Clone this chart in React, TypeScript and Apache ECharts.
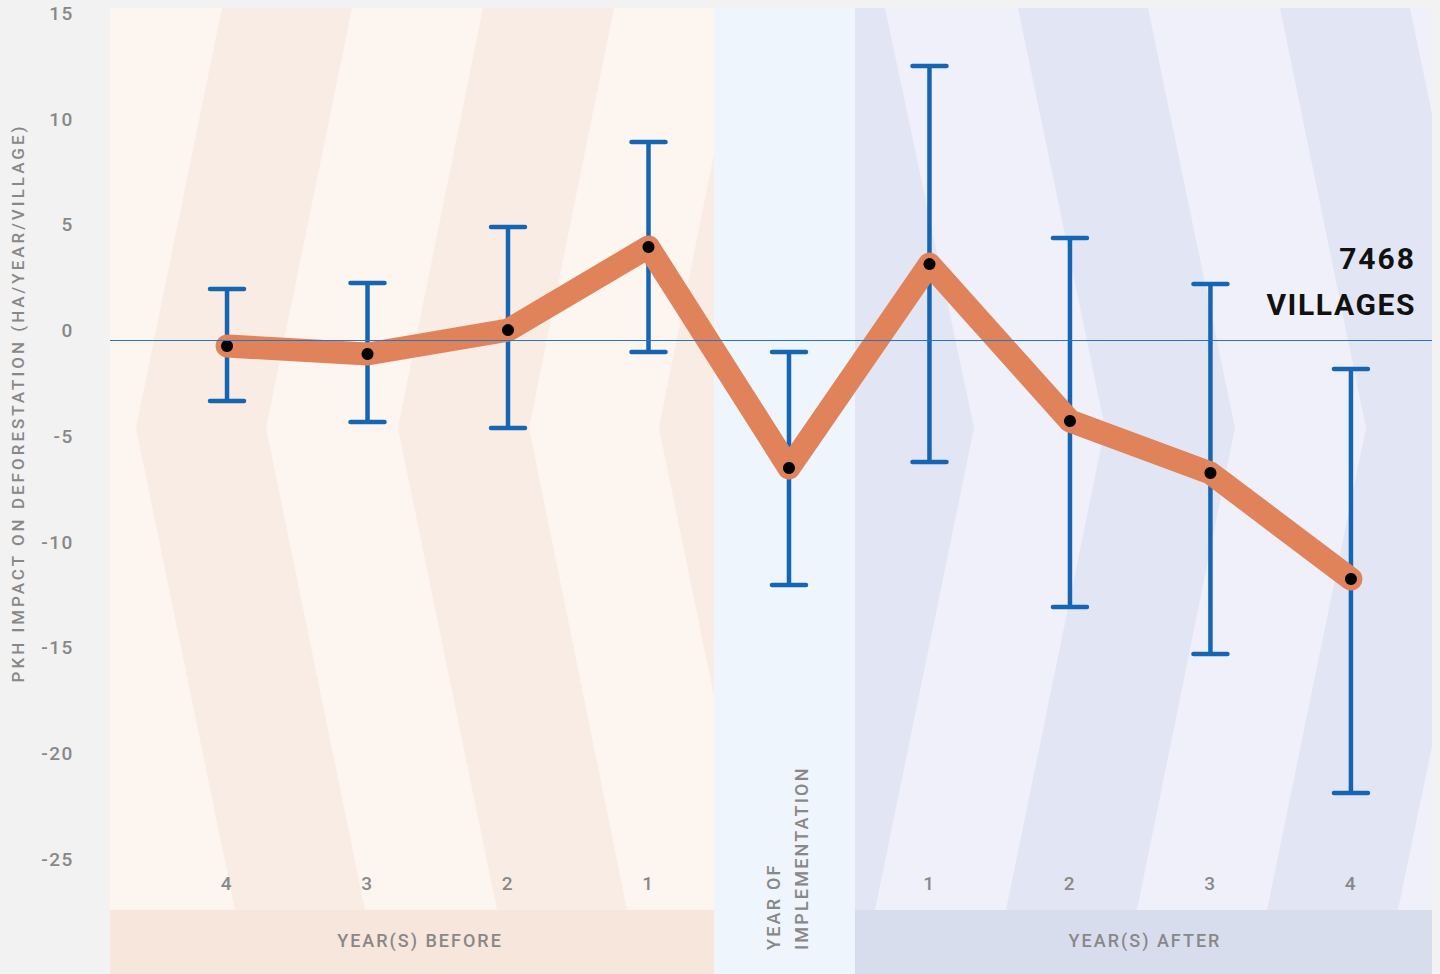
import React, { useEffect, useRef } from 'react';
import * as echarts from 'echarts';

// ---------- data ----------
const periodLabels = ['4', '3', '2', '1', '', '1', '2', '3', '4'];
const estimates = [-0.28, -0.66, 0.47, 4.4, -6.05, 3.59, -3.83, -6.29, -11.3];
const ciUpper = [2.41, 2.7, 5.34, 9.36, -0.57, 12.96, 4.82, 2.65, -1.37];
const ciLower = [-2.88, -3.88, -4.16, -0.57, -11.58, -5.77, -12.62, -14.85, -21.42];
const yTicks = [15, 10, 5, 0, -5, -10, -15, -20, -25];

const yAxisTitle = 'PKH IMPACT ON DEFORESTATION (HA/YEAR/VILLAGE)';
const villageCount = '7468';
const villageUnit = 'VILLAGES';
const beforeLabel = 'YEAR(S) BEFORE';
const afterLabel = 'YEAR(S) AFTER';
const implLine1 = 'YEAR OF';
const implLine2 = 'IMPLEMENTATION';

// ---------- style ----------
const C = {
  page: '#f2f2f2',
  beforeLight: '#fcf5f0',
  beforeDark: '#f9ece4',
  beforeBand: '#f7e6dc',
  impl: '#eef5fc',
  afterLight: '#eff0f9',
  afterDark: '#e2e6f4',
  afterBand: '#d8ddee',
  text: '#888888',
  bar: '#1565b3',
  zero: '#2a74c4',
  line: '#e0825a',
  dot: '#000000',
};
const FONT = 'Roboto, "Noto Sans", sans-serif';

const letterSpacing: Record<string, number> = {
  [yAxisTitle]: 3.0,
  [beforeLabel]: 2.0,
  [afterLabel]: 2.0,
  [implLine1]: 2.2,
  [implLine2]: 2.2,
  [villageCount]: 2,
  [villageUnit]: 1.6,
};
const tickSpacing = 1.6;

function poly(points: number[][], fill: string) {
  return { type: 'polygon', z: -10, silent: true, shape: { points }, style: { fill } };
}
function rect(x: number, y: number, width: number, height: number, fill: string) {
  return { type: 'rect', z: -11, silent: true, shape: { x, y, width, height }, style: { fill } };
}
function label(text: string, x: number, y: number, opts: any = {}) {
  return {
    type: 'text',
    z: 50,
    silent: true,
    x,
    y,
    rotation: opts.rotation || 0,
    style: {
      text,
      fill: opts.fill || C.text,
      fontSize: opts.fontSize || 18,
      fontWeight: opts.fontWeight || 500,
      fontFamily: opts.fontFamily || FONT,
      align: opts.align || 'center',
      verticalAlign: 'middle',
    },
  };
}

export default function App() {
  const ref = useRef<HTMLDivElement>(null);

  useEffect(() => {
    if (!ref.current) return;
    const chart = echarts.init(ref.current, undefined, { renderer: 'svg' });

    const background = [
      rect(110, 8, 604, 902, C.beforeLight),
      rect(110, 910, 604, 64, C.beforeBand),
      rect(714, 8, 141, 966, C.impl),
      rect(855, 8, 577, 902, C.afterLight),
      rect(855, 910, 577, 64, C.afterBand),
      poly([[222, 8], [352, 8], [266, 428], [365, 910], [235, 910], [136, 428]], C.beforeDark),
      poly([[483, 8], [614, 8], [529, 428], [627, 910], [497, 910], [398, 428]], C.beforeDark),
      poly([[714, 154], [659, 428], [714, 696]], C.beforeDark),
      poly([[855, 8], [885, 8], [974, 428], [875, 910], [855, 910]], C.afterDark),
      poly([[1018, 8], [1148, 8], [1235, 428], [1137, 910], [1006, 910], [1105, 428]], C.afterDark),
      poly([[1280, 8], [1410, 8], [1432, 114], [1432, 746], [1398, 910], [1267, 910], [1366, 428]], C.afterDark),
    ];

    const texts = [
      label(yAxisTitle, 18, 403, { rotation: Math.PI / 2, fontSize: 17 }),
      label(beforeLabel, 420, 940),
      label(afterLabel, 1145, 940),
      label(implLine1, 773, 950, { rotation: Math.PI / 2, align: 'left' }),
      label(implLine2, 801, 950, { rotation: Math.PI / 2, align: 'left' }),
      label(villageCount, 1416, 258, { fill: '#111111', fontSize: 30, fontWeight: 700, align: 'right' }),
      label(villageUnit, 1416, 304, { fill: '#111111', fontSize: 30, fontWeight: 700, align: 'right' }),
    ];

    const option: any = {
      animation: false,
      backgroundColor: C.page,
      graphic: { elements: [...background, ...texts] },
      grid: { left: 110, right: 8, top: 8, bottom: 64, containLabel: false },
      xAxis: {
        type: 'value',
        min: -0.833,
        max: 8.577,
        z: 5,
        axisLine: { show: false },
        axisTick: { show: false },
        splitLine: { show: false },
        axisLabel: {
          customValues: periodLabels.map((_, i) => i),
          formatter: (v: number) => periodLabels[Math.round(v)] ?? '',
          inside: true,
          margin: 17,
          color: C.text,
          fontSize: 19,
          fontWeight: 500,
          fontFamily: FONT,
        },
      },
      yAxis: {
        type: 'value',
        min: -26.95,
        max: 15.7,
        axisLine: { show: false },
        axisTick: { show: false },
        splitLine: { show: false },
        axisLabel: {
          customValues: yTicks,
          margin: 36,
          color: C.text,
          fontSize: 19,
          fontWeight: 500,
          fontFamily: FONT,
          verticalAlign: 'bottom',
        },
      },
      series: [
        {
          type: 'custom',
          name: 'CI',
          z: 2,
          silent: true,
          data: estimates.map((_, i) => [i, ciLower[i], ciUpper[i]]),
          encode: { x: 0, y: [1, 2] },
          renderItem: (params: any, api: any) => {
            const x = api.value(0);
            const pLo = api.coord([x, api.value(1)]);
            const pHi = api.coord([x, api.value(2)]);
            const half = 17;
            const style = { stroke: C.bar, lineWidth: 4.5, lineCap: 'round' };
            return {
              type: 'group',
              children: [
                { type: 'line', shape: { x1: pHi[0], y1: pHi[1], x2: pLo[0], y2: pLo[1] }, style: { stroke: C.bar, lineWidth: 4.5 } },
                { type: 'line', shape: { x1: pHi[0] - half, y1: pHi[1], x2: pHi[0] + half, y2: pHi[1] }, style },
                { type: 'line', shape: { x1: pLo[0] - half, y1: pLo[1], x2: pLo[0] + half, y2: pLo[1] }, style },
              ],
            };
          },
          markLine: {
            silent: true,
            symbol: ['none', 'none'],
            label: { show: false },
            lineStyle: { color: C.zero, width: 1, type: 'solid' },
            data: [{ yAxis: 0 }],
          },
        },
        {
          type: 'line',
          name: 'Estimate',
          z: 3,
          silent: true,
          data: estimates.map((v, i) => [i, v]),
          symbol: 'circle',
          symbolSize: 12,
          itemStyle: { color: C.dot, borderWidth: 0 },
          lineStyle: { color: C.line, width: 23, cap: 'round', join: 'round' },
        },
      ],
    };

    chart.setOption(option);

    const tickTexts = new Set([...yTicks.map(String), ...periodLabels.filter((s) => s)]);
    const applySpacing = () => {
      const el = ref.current;
      if (!el) return;
      el.querySelectorAll('text').forEach((t) => {
        const content = (t.textContent || '').trim();
        const s = letterSpacing[content];
        if (s) t.setAttribute('letter-spacing', String(s));
        else if (tickTexts.has(content)) t.setAttribute('letter-spacing', String(tickSpacing));
      });
    };
    applySpacing();
    chart.on('finished', applySpacing);

    return () => {
      chart.dispose();
    };
  }, []);

  return (
    <div
      ref={ref}
      style={{ position: 'fixed', left: 0, top: 0, width: 1440, height: 974 }}
    />
  );
}
